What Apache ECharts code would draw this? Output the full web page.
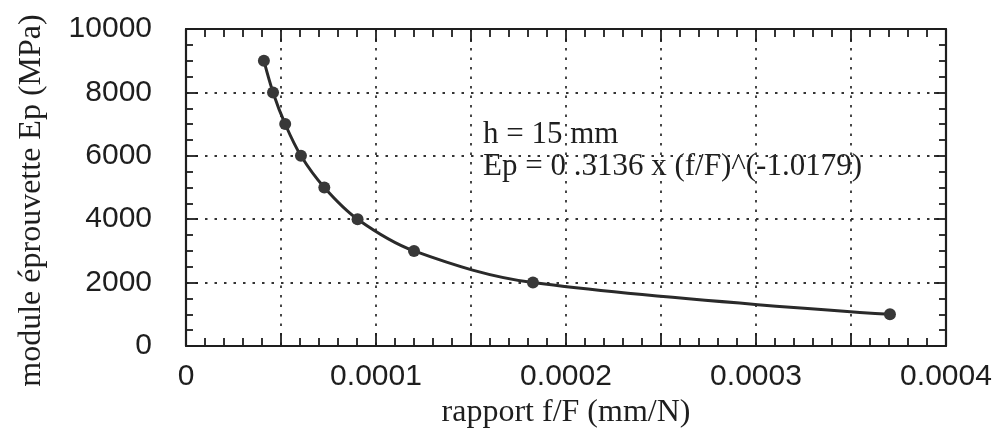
<!DOCTYPE html>
<html>
<head>
<meta charset="utf-8">
<script src="https://cdn.jsdelivr.net/npm/echarts@6/dist/echarts.min.js"></script>
<style>html,body{margin:0;padding:0;background:#fff;}#c{width:1001px;height:435px;}</style>
</head>
<body>
<div id="c"></div>
<script>
// Data
var ratioFF = [0.0000410, 0.0000458, 0.0000522, 0.0000605, 0.0000728, 0.0000903, 0.0001200, 0.0001826, 0.0003705];
var modulusEp = [9000, 8000, 7000, 6000, 5000, 4000, 3000, 2000, 1000];
var xTickLabels = ['0', '0.0001', '0.0002', '0.0003', '0.0004'];
var yTickLabels = ['0', '2000', '4000', '6000', '8000', '10000'];
var xTitle = 'rapport f/F (mm/N)';
var yTitle = 'module éprouvette Ep (MPa)';
var noteLines = ['h = 15 mm', 'Ep = 0 .3136 x (f/F)^(-1.0179)'];

var points = ratioFF.map(function (x, i) { return [x, modulusEp[i]]; });

function xLabel(v) {
  var k = Math.round(v / 0.0001 * 2);
  if (k % 2 !== 0) return '';
  return xTickLabels[k / 2] || '';
}
function yLabel(v) {
  var k = Math.round(v / 2000);
  return yTickLabels[k] || '';
}

var serif = '"Liberation Serif", "DejaVu Serif", serif';
var sans = '"Liberation Sans", Arial, sans-serif';
var ink = '#1e1e1e';
var gridDash = { color: '#333', width: 1.8, type: [2.5, 7] };

var chart = echarts.init(document.getElementById('c'), null, { renderer: 'canvas' });
chart.setOption({
  animation: false,
  backgroundColor: '#ffffff',
  grid: { left: 186, right: 55, top: 29, bottom: 89, containLabel: false },
  xAxis: [{
    type: 'value', min: 0, max: 0.0004, interval: 0.00005, position: 'bottom',
    name: xTitle, nameLocation: 'middle', nameGap: 51,
    nameTextStyle: { fontFamily: serif, fontSize: 32, color: ink },
    axisLine: { show: true, onZero: false, lineStyle: { color: ink, width: 2.2 } },
    axisTick: { show: true, inside: true, length: 13, lineStyle: { color: ink, width: 1.8 } },
    minorTick: { show: true, splitNumber: 5, length: 8, lineStyle: { color: ink, width: 1.8 } },
    splitLine: { show: true, lineStyle: gridDash },
    axisLabel: { formatter: xLabel, fontFamily: sans, fontSize: 30, color: ink, margin: 16, showMinLabel: true, showMaxLabel: true }
  }, {
    type: 'value', min: 0, max: 0.0004, interval: 0.00005, position: 'top',
    axisLine: { show: true, onZero: false, lineStyle: { color: ink, width: 2.2 } },
    axisTick: { show: true, inside: true, length: 13, lineStyle: { color: ink, width: 1.8 } },
    minorTick: { show: true, splitNumber: 5, length: 8, lineStyle: { color: ink, width: 1.8 } },
    splitLine: { show: false },
    axisLabel: { show: false }
  }],
  yAxis: [{
    type: 'value', min: 0, max: 10000, interval: 2000, position: 'left',
    name: yTitle, nameLocation: 'middle', nameGap: 138, nameRotate: 90,
    nameTextStyle: { fontFamily: serif, fontSize: 32, color: ink, padding: [0, 26, 0, 0] },
    axisLine: { show: true, onZero: false, lineStyle: { color: ink, width: 2.2 } },
    axisTick: { show: true, inside: true, length: 12, lineStyle: { color: ink, width: 1.8 } },
    minorTick: { show: true, splitNumber: 4, length: 7, lineStyle: { color: ink, width: 1.8 } },
    splitLine: { show: true, lineStyle: gridDash },
    axisLabel: { formatter: yLabel, fontFamily: sans, fontSize: 30, color: ink, margin: 34 }
  }, {
    type: 'value', min: 0, max: 10000, interval: 2000, position: 'right',
    axisLine: { show: true, onZero: false, lineStyle: { color: ink, width: 2.2 } },
    axisTick: { show: true, inside: true, length: 12, lineStyle: { color: ink, width: 1.8 } },
    minorTick: { show: true, splitNumber: 4, length: 7, lineStyle: { color: ink, width: 1.8 } },
    splitLine: { show: false },
    axisLabel: { show: false }
  }],
  series: [{
    type: 'line', xAxisIndex: 0, yAxisIndex: 0,
    data: points, smooth: 0.35,
    symbol: 'circle', symbolSize: 12,
    lineStyle: { color: '#2a2a2a', width: 3 },
    itemStyle: { color: '#383838' }
  }],
  graphic: [{
    type: 'text', left: 483, top: 119,
    style: { text: noteLines[0], font: '31px ' + serif, fill: ink }
  }, {
    type: 'text', left: 483, top: 151,
    style: { text: noteLines[1], font: '31px ' + serif, fill: ink }
  }]
});
</script>
</body>
</html>
